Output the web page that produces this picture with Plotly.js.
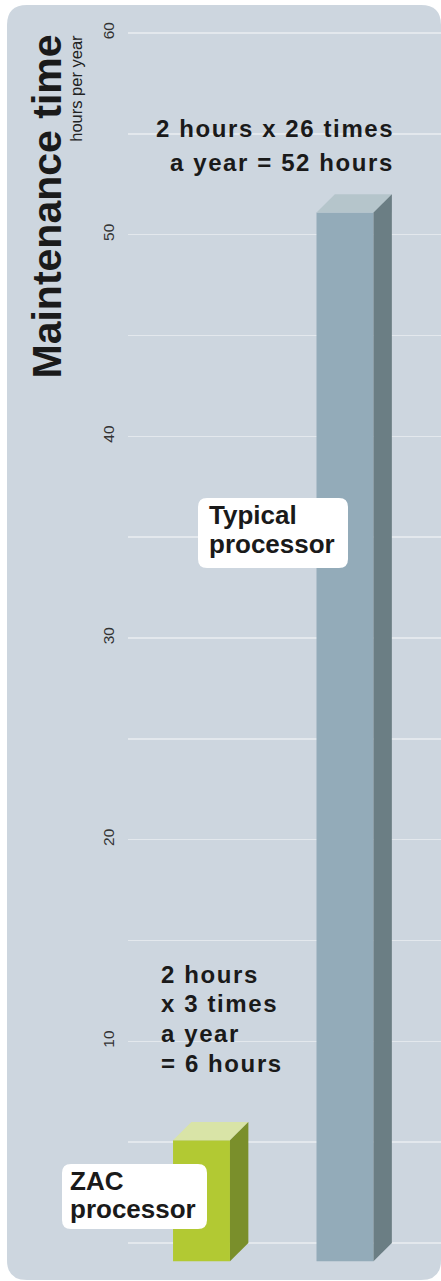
<!DOCTYPE html>
<html>
<head>
<meta charset="utf-8">
<script src="https://cdn.plot.ly/plotly-3.0.1.min.js"></script>
<style>
  html, body { margin: 0; padding: 0; background: #ffffff; }
  #chart { width: 441px; height: 1281px; }
</style>
</head>
<body>
<div id="chart"></div>
<script>
// ---- data ----
const categories = ['ZAC processor', 'Typical processor'];
const hoursPerYear = [6, 52];
const yTickValues = [10, 20, 30, 40, 50, 60];
const yTickLabels = ['10', '20', '30', '40', '50', '60'];
const barLabelLines = [['ZAC', 'processor'], ['Typical', 'processor']];
const zacNoteLines = ['2 hours', 'x 3 times', 'a year', '= 6 hours'];
const typicalNoteLines = ['2 hours x 26 times', 'a year = 52 hours'];
const chartTitle = 'Maintenance time';
const chartSubtitle = 'hours per year';

// ---- styles / geometry ----
const W = 441, H = 1281, ML = 128, MR = 0, MT = 13, MB = 11;
const PW = W - ML - MR, PH = H - MT - MB;
const frontColors = ['#b2c933', '#93abb9'];
const topColors = ['#d9e4a7', '#b5c5cb'];
const sideColors = ['#7a8f2b', '#6b7e84'];
const bgColor = '#cdd6df';
const gridColor = '#e3e8ed';
const textColor = '#1a1a1a';
const FONT = '"Liberation Sans", Arial, Helvetica, sans-serif';

const barWidth = 0.397;   // in x units
const depthX = 0.128;     // x units
const depthY = 0.9;       // y units
const xRange = [-0.5122, 1.669];
const yRange = [-1.339, 60.992];

const X = px => (px - ML) / PW;
const Y = py => (H - MB - py) / PH;

function roundRect(x0, y0, x1, y1, r) {
  return `M${X(x0 + r)},${Y(y0)} L${X(x1 - r)},${Y(y0)} Q${X(x1)},${Y(y0)} ${X(x1)},${Y(y0 + r)} ` +
         `L${X(x1)},${Y(y1 - r)} Q${X(x1)},${Y(y1)} ${X(x1 - r)},${Y(y1)} ` +
         `L${X(x0 + r)},${Y(y1)} Q${X(x0)},${Y(y1)} ${X(x0)},${Y(y1 - r)} ` +
         `L${X(x0)},${Y(y0 + r)} Q${X(x0)},${Y(y0)} ${X(x0 + r)},${Y(y0)} Z`;
}

const xPos = categories.map((c, i) => i);

const traces = [];
// front faces
traces.push({
  type: 'bar',
  x: xPos,
  y: hoursPerYear,
  base: hoursPerYear.map(() => -depthY),
  width: hoursPerYear.map(() => barWidth),
  marker: { color: frontColors, line: { width: 0 } },
  text: categories,
  hoverinfo: 'skip',
  textposition: 'none',
  showlegend: false
});
// top and side faces
hoursPerYear.forEach((v, i) => {
  const xl = xPos[i] - barWidth / 2, xr = xPos[i] + barWidth / 2;
  traces.push({
    type: 'scatter', mode: 'lines', fill: 'toself',
    x: [xl, xr, xr + depthX, xl + depthX, xl],
    y: [v - depthY, v - depthY, v, v, v - depthY],
    fillcolor: topColors[i], line: { width: 0, color: topColors[i] },
    hoverinfo: 'skip', showlegend: false
  });
  traces.push({
    type: 'scatter', mode: 'lines', fill: 'toself',
    x: [xr, xr + depthX, xr + depthX, xr, xr],
    y: [-depthY, 0, v, v - depthY, -depthY],
    fillcolor: sideColors[i], line: { width: 0, color: sideColors[i] },
    hoverinfo: 'skip', showlegend: false
  });
});

const ls = '1.6px';
const annotations = [];
// title
annotations.push({
  xref: 'paper', yref: 'paper', x: X(46), y: Y(206.5), xanchor: 'center', yanchor: 'middle',
  text: '<b>' + chartTitle + '</b>', textangle: -90, showarrow: false, borderpad: 0,
  font: { family: FONT, size: 41, color: textColor }
});
annotations.push({
  xref: 'paper', yref: 'paper', x: X(76.3), y: Y(88.5), xanchor: 'center', yanchor: 'middle',
  text: chartSubtitle, textangle: -90, showarrow: false, borderpad: 0,
  font: { family: FONT, size: 16.5, color: '#222222' }
});
// typical note (right aligned)
const typNoteCenters = [128, 162];
typicalNoteLines.forEach((t, k) => {
  annotations.push({
    xref: 'paper', yref: 'paper', x: X(395), y: Y(typNoteCenters[k]), xanchor: 'right', yanchor: 'middle',
    text: `<b><span style="letter-spacing:${ls}">${t}</span></b>`, showarrow: false, borderpad: 0,
    font: { family: FONT, size: 24, color: textColor }
  });
});
// zac note (left aligned)
const zacNoteCenters = [974.7, 1003.7, 1033.7, 1063.7];
zacNoteLines.forEach((t, k) => {
  annotations.push({
    xref: 'paper', yref: 'paper', x: X(160), y: Y(zacNoteCenters[k]), xanchor: 'left', yanchor: 'middle',
    text: `<b><span style="letter-spacing:${ls}">${t}</span></b>`, showarrow: false, borderpad: 0,
    font: { family: FONT, size: 24, color: textColor }
  });
});
// bar labels in white boxes
const labelBoxes = [[62, 1164, 207, 1229], [198, 498, 348, 568]];
const labelLeft = [69, 208];
const labelCenters = [[1181, 1209], [515, 544]];
barLabelLines.forEach((lines, i) => {
  lines.forEach((t, k) => {
    annotations.push({
      xref: 'paper', yref: 'paper', x: X(labelLeft[i]), y: Y(labelCenters[i][k]), xanchor: 'left', yanchor: 'middle',
      text: '<b>' + t + '</b>', showarrow: false, borderpad: 0,
      font: { family: FONT, size: 26, color: textColor }
    });
  });
});

const shapes = [
  { type: 'path', xref: 'paper', yref: 'paper', layer: 'below', path: roundRect(7, 5, 441, 1280, 20),
    fillcolor: bgColor, line: { width: 0 } }
];
labelBoxes.forEach(b => {
  shapes.push({ type: 'path', xref: 'paper', yref: 'paper', layer: 'above', path: roundRect(b[0], b[1], b[2], b[3], 9),
    fillcolor: '#ffffff', line: { width: 0 } });
});

const layout = {
  width: W, height: H,
  margin: { l: ML, r: MR, t: MT, b: MB, pad: 0 },
  paper_bgcolor: '#ffffff',
  plot_bgcolor: 'rgba(0,0,0,0)',
  showlegend: false,
  barmode: 'overlay',
  xaxis: { range: xRange, visible: false, fixedrange: true },
  yaxis: {
    range: yRange,
    tickmode: 'array', tickvals: yTickValues, ticktext: yTickLabels,
    tickangle: -90,
    tickfont: { family: FONT, size: 15.5, color: '#333333' },
    ticks: '', ticklabelstandoff: 10,
    showgrid: true, gridcolor: gridColor, gridwidth: 1.6,
    zeroline: false, showline: false,
    minor: { tickmode: 'linear', tick0: 0, dtick: 5, showgrid: true, gridcolor: gridColor, gridwidth: 1.6, ticks: '' },
    fixedrange: true
  },
  shapes: shapes,
  annotations: annotations
};

Plotly.newPlot('chart', traces, layout, { staticPlot: true, displayModeBar: false });
</script>
</body>
</html>
